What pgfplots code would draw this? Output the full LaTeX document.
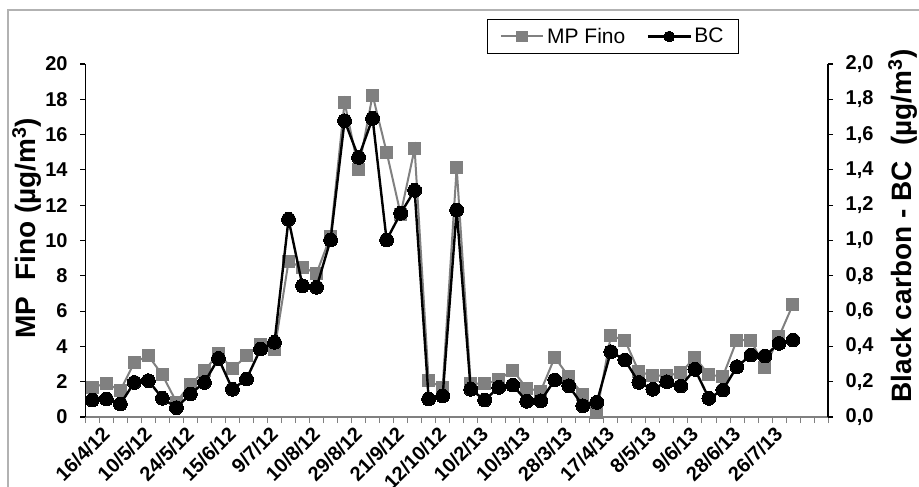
\documentclass[border=0pt]{standalone}
\usepackage{pgfplots}
\usepackage{pgfplotstable}
\pgfplotsset{compat=1.18}
\usepackage{fontspec}
\setmainfont{Liberation Sans}
\definecolor{mpgray}{RGB}{128,128,128}

\pgfplotstableread{
i mp bc
0 1.68 0.096
1 1.90 0.102
2 1.50 0.074
3 3.10 0.196
4 3.47 0.206
5 2.38 0.106
6 0.85 0.053
7 1.85 0.130
8 2.62 0.196
9 3.60 0.332
10 2.72 0.157
11 3.47 0.215
12 4.13 0.385
13 3.80 0.423
14 8.80 1.120
15 8.48 0.743
16 8.14 0.735
17 10.25 1.003
18 17.83 1.679
19 14.03 1.471
20 18.24 1.692
21 15.01 1.003
22 11.50 1.154
23 15.20 1.284
24 2.04 0.102
25 1.68 0.119
26 14.13 1.173
27 1.91 0.157
28 1.87 0.096
29 2.10 0.168
30 2.66 0.181
31 1.62 0.089
32 1.47 0.092
33 3.38 0.210
34 2.28 0.177
35 1.28 0.064
36 0.27 0.083
37 4.59 0.370
38 4.36 0.323
39 2.57 0.196
40 2.34 0.157
41 2.34 0.200
42 2.51 0.176
43 3.38 0.270
44 2.38 0.106
45 2.31 0.153
46 4.36 0.285
47 4.36 0.351
48 2.79 0.346
49 4.55 0.417
50 6.38 0.436
}\datatable

\pgfplotsset{
  common/.style={
    at={(64pt,51.75pt)}, anchor=south west,
    scale only axis, width=557pt, height=264.75pt,
    xmin=-0.5, xmax=52.5,
    tick align=outside,
    /pgf/number format/assume math mode=true,
    tick label style={font=\fontsize{15}{18}\selectfont\bfseries},
    label style={font=\fontsize{21}{25}\selectfont\bfseries},
    clip=false,
  },
  mpstyle/.style={mpgray, line width=1.5pt, mark=square*, mark size=4.5pt, mark options={fill=mpgray, draw=mpgray, line width=0pt}},
  bcstyle/.style={black, line width=1.8pt, mark=*, mark size=5.2pt, mark options={fill=black, draw=black, line width=0pt}},
}

\begin{document}
\begin{tikzpicture}
\useasboundingbox (0,0) rectangle (689.25pt,364.5pt);
\draw[gray!60, line width=0.8pt] (6pt,-5pt) -- (6pt,357pt) -- (700pt,357pt);
\begin{axis}[
  common,
  ymin=0, ymax=20,
  axis y line*=left, axis x line*=bottom,
  x axis line style={mpgray, line width=0.8pt},
  y axis line style={black, line width=1pt},
  ytick={0,2,...,20},
  major tick length=3.75pt, minor tick length=4.5pt,
  y tick style={black, line width=0.8pt},
  xtick={0,3,...,48},
  xticklabels={16/4/12,10/5/12,24/5/12,15/6/12,9/7/12,10/8/12,29/8/12,21/9/12,12/10/12,10/2/13,10/3/13,28/3/13,17/4/13,8/5/13,9/6/13,28/6/13,26/7/13},
  major x tick style={draw=none},
  minor xtick={-0.5,0.5,...,52.5},
  minor x tick style={mpgray, line width=0.6pt},
  xticklabel style={rotate=45, anchor=north east, inner sep=0pt, yshift=-6pt, xshift=3pt},
  yticklabel style={xshift=-6pt},
  ylabel={MP\ \ Fino (µg/m\textsuperscript{3})},
  ylabel style={at={(rel axis cs:-0.0785,0.535)}, anchor=center},
]
\addplot[mpstyle] table[x=i, y=mp] {\datatable};
\end{axis}
\begin{axis}[
  common,
  ymin=0, ymax=2,
  axis y line*=right, axis x line=none,
  y axis line style={black, line width=1pt},
  major tick length=3.75pt,
  y tick style={black, line width=0.8pt},
  ytick={0,0.2,...,2.01},
  yticklabel style={/pgf/number format/.cd, fixed, fixed zerofill, precision=1, use comma, /tikz/.cd, xshift=6pt},
  ylabel={Black carbon - BC\ \ (µg/m\textsuperscript{3})},
  ylabel style={at={(rel axis cs:1.101,0.541)}, anchor=center},
  legend columns=2,
  legend style={at={(0.7105,1.078)}, anchor=center, draw=black, line width=0.9pt,
    font=\fontsize{15.75}{18}\selectfont, inner xsep=9pt, inner ysep=4.5pt,
    /tikz/every even column/.append style={column sep=14pt}},
  legend image code/.code={\draw[#1, mark size=4pt, mark repeat=2, mark phase=2] plot coordinates {(0pt,0pt) (16pt,0pt) (32pt,0pt)};},
]
\addlegendimage{mpstyle}
\addlegendentry{MP Fino}
\addplot[bcstyle] table[x=i, y=bc] {\datatable};
\addlegendentry{BC}
\end{axis}
\end{tikzpicture}
\end{document}
